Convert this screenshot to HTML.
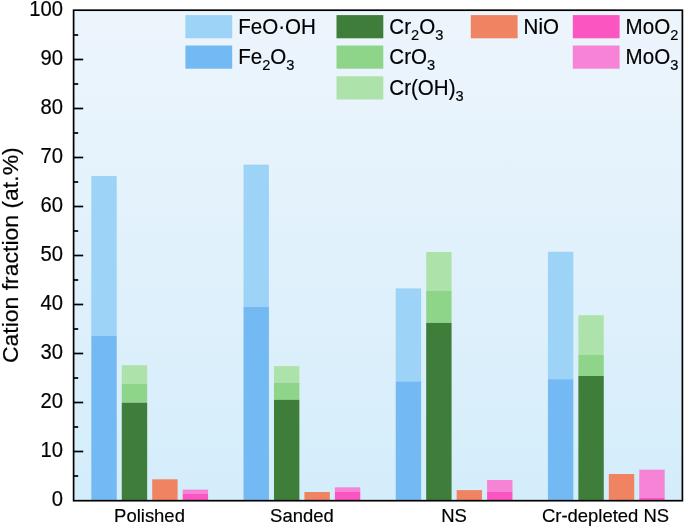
<!DOCTYPE html>
<html><head><meta charset="utf-8"><title>Cation fraction</title>
<style>html,body{margin:0;padding:0;background:#fff}svg{display:block}</style></head>
<body>
<svg width="685" height="527" viewBox="0 0 685 527" font-family="'Liberation Sans', sans-serif" fill="#000">
<defs><linearGradient id="bg" x1="0" y1="0" x2="0" y2="1"><stop offset="0" stop-color="#EDF5FC"/><stop offset="1" stop-color="#D4EDFB"/></linearGradient></defs>
<rect x="0" y="0" width="685" height="527" fill="#fff"/>
<rect x="73.6" y="10.2" width="608.80" height="490.50" fill="url(#bg)"/>
<rect x="91.32" y="176.00" width="25.4" height="159.75" fill="#9DD3F7"/>
<rect x="91.32" y="335.75" width="25.4" height="164.95" fill="#73B9F4"/>
<rect x="121.77" y="365.20" width="25.4" height="18.60" fill="#ADE3AA"/>
<rect x="121.77" y="383.80" width="25.4" height="18.90" fill="#8ED58A"/>
<rect x="121.77" y="402.70" width="25.4" height="98.00" fill="#3F7D3A"/>
<rect x="152.22" y="479.30" width="25.4" height="21.40" fill="#F08462"/>
<rect x="182.68" y="489.60" width="25.4" height="4.30" fill="#F683D6"/>
<rect x="182.68" y="493.90" width="25.4" height="6.80" fill="#FB55C2"/>
<rect x="243.52" y="164.60" width="25.4" height="142.10" fill="#9DD3F7"/>
<rect x="243.52" y="306.70" width="25.4" height="194.00" fill="#73B9F4"/>
<rect x="273.97" y="366.10" width="25.4" height="16.80" fill="#ADE3AA"/>
<rect x="273.97" y="382.90" width="25.4" height="16.90" fill="#8ED58A"/>
<rect x="273.97" y="399.80" width="25.4" height="100.90" fill="#3F7D3A"/>
<rect x="304.43" y="492.00" width="25.4" height="8.70" fill="#F08462"/>
<rect x="334.88" y="487.30" width="25.4" height="4.60" fill="#F683D6"/>
<rect x="334.88" y="491.90" width="25.4" height="8.80" fill="#FB55C2"/>
<rect x="395.73" y="288.40" width="25.4" height="93.00" fill="#9DD3F7"/>
<rect x="395.73" y="381.40" width="25.4" height="119.30" fill="#73B9F4"/>
<rect x="426.18" y="252.00" width="25.4" height="38.90" fill="#ADE3AA"/>
<rect x="426.18" y="290.90" width="25.4" height="32.00" fill="#8ED58A"/>
<rect x="426.18" y="322.90" width="25.4" height="177.80" fill="#3F7D3A"/>
<rect x="456.63" y="490.10" width="25.4" height="10.60" fill="#F08462"/>
<rect x="487.08" y="480.00" width="25.4" height="11.90" fill="#F683D6"/>
<rect x="487.08" y="491.90" width="25.4" height="8.80" fill="#FB55C2"/>
<rect x="547.92" y="251.80" width="25.4" height="127.40" fill="#9DD3F7"/>
<rect x="547.92" y="379.20" width="25.4" height="121.50" fill="#73B9F4"/>
<rect x="578.37" y="315.20" width="25.4" height="39.70" fill="#ADE3AA"/>
<rect x="578.37" y="354.90" width="25.4" height="21.10" fill="#8ED58A"/>
<rect x="578.37" y="376.00" width="25.4" height="124.70" fill="#3F7D3A"/>
<rect x="608.82" y="474.00" width="25.4" height="26.70" fill="#F08462"/>
<rect x="639.27" y="469.70" width="25.4" height="28.20" fill="#F683D6"/>
<rect x="639.27" y="497.90" width="25.4" height="2.80" fill="#FB55C2"/>
<rect x="73.6" y="10.2" width="608.80" height="490.50" fill="none" stroke="#000" stroke-width="1.7"/>
<line x1="73.6" y1="476.00" x2="78.20" y2="476.00" stroke="#000" stroke-width="1.7"/>
<line x1="73.6" y1="451.50" x2="83.20" y2="451.50" stroke="#000" stroke-width="1.7"/>
<line x1="73.6" y1="427.00" x2="78.20" y2="427.00" stroke="#000" stroke-width="1.7"/>
<line x1="73.6" y1="402.50" x2="83.20" y2="402.50" stroke="#000" stroke-width="1.7"/>
<line x1="73.6" y1="378.00" x2="78.20" y2="378.00" stroke="#000" stroke-width="1.7"/>
<line x1="73.6" y1="353.50" x2="83.20" y2="353.50" stroke="#000" stroke-width="1.7"/>
<line x1="73.6" y1="329.00" x2="78.20" y2="329.00" stroke="#000" stroke-width="1.7"/>
<line x1="73.6" y1="304.50" x2="83.20" y2="304.50" stroke="#000" stroke-width="1.7"/>
<line x1="73.6" y1="280.00" x2="78.20" y2="280.00" stroke="#000" stroke-width="1.7"/>
<line x1="73.6" y1="255.50" x2="83.20" y2="255.50" stroke="#000" stroke-width="1.7"/>
<line x1="73.6" y1="231.00" x2="78.20" y2="231.00" stroke="#000" stroke-width="1.7"/>
<line x1="73.6" y1="206.50" x2="83.20" y2="206.50" stroke="#000" stroke-width="1.7"/>
<line x1="73.6" y1="182.00" x2="78.20" y2="182.00" stroke="#000" stroke-width="1.7"/>
<line x1="73.6" y1="157.50" x2="83.20" y2="157.50" stroke="#000" stroke-width="1.7"/>
<line x1="73.6" y1="133.00" x2="78.20" y2="133.00" stroke="#000" stroke-width="1.7"/>
<line x1="73.6" y1="108.50" x2="83.20" y2="108.50" stroke="#000" stroke-width="1.7"/>
<line x1="73.6" y1="84.00" x2="78.20" y2="84.00" stroke="#000" stroke-width="1.7"/>
<line x1="73.6" y1="59.50" x2="83.20" y2="59.50" stroke="#000" stroke-width="1.7"/>
<line x1="73.6" y1="35.00" x2="78.20" y2="35.00" stroke="#000" stroke-width="1.7"/>
<text transform="translate(62.90,506.30) scale(0.955,1)" font-size="21.2" text-anchor="end" stroke="#000" stroke-width="0.18">0</text>
<text transform="translate(62.90,457.30) scale(0.955,1)" font-size="21.2" text-anchor="end" stroke="#000" stroke-width="0.18">10</text>
<text transform="translate(62.90,408.30) scale(0.955,1)" font-size="21.2" text-anchor="end" stroke="#000" stroke-width="0.18">20</text>
<text transform="translate(62.90,359.30) scale(0.955,1)" font-size="21.2" text-anchor="end" stroke="#000" stroke-width="0.18">30</text>
<text transform="translate(62.90,310.30) scale(0.955,1)" font-size="21.2" text-anchor="end" stroke="#000" stroke-width="0.18">40</text>
<text transform="translate(62.90,261.30) scale(0.955,1)" font-size="21.2" text-anchor="end" stroke="#000" stroke-width="0.18">50</text>
<text transform="translate(62.90,212.30) scale(0.955,1)" font-size="21.2" text-anchor="end" stroke="#000" stroke-width="0.18">60</text>
<text transform="translate(62.90,163.30) scale(0.955,1)" font-size="21.2" text-anchor="end" stroke="#000" stroke-width="0.18">70</text>
<text transform="translate(62.90,114.30) scale(0.955,1)" font-size="21.2" text-anchor="end" stroke="#000" stroke-width="0.18">80</text>
<text transform="translate(62.90,65.30) scale(0.955,1)" font-size="21.2" text-anchor="end" stroke="#000" stroke-width="0.18">90</text>
<text transform="translate(62.90,16.30) scale(0.955,1)" font-size="21.2" text-anchor="end" stroke="#000" stroke-width="0.18">100</text>
<text transform="translate(149.50,521.60) scale(0.967,1)" font-size="19.1" text-anchor="middle" stroke="#000" stroke-width="0.18">Polished</text>
<text transform="translate(301.90,521.60) scale(0.967,1)" font-size="19.1" text-anchor="middle" stroke="#000" stroke-width="0.18">Sanded</text>
<text transform="translate(454.10,521.60) scale(0.967,1)" font-size="19.1" text-anchor="middle" stroke="#000" stroke-width="0.18">NS</text>
<text transform="translate(605.50,521.60) scale(0.967,1)" font-size="19.1" text-anchor="middle" stroke="#000" stroke-width="0.18">Cr-depleted NS</text>
<text transform="translate(18.0,255.2) rotate(-90) scale(1.022,1)" font-size="22.5" text-anchor="middle" stroke="#000" stroke-width="0.18">Cation fraction (at.%)</text>
<rect x="185.4" y="15.1" width="46.8" height="23.2" fill="#9DD3F7"/>
<text transform="translate(238.20,33.80) scale(0.97,1)" font-size="21.2" text-anchor="start" stroke="#000" stroke-width="0.18">FeO·OH</text>
<rect x="185.4" y="45.5" width="46.8" height="23.2" fill="#73B9F4"/>
<text transform="translate(238.20,64.20) scale(0.97,1)" font-size="21.2" text-anchor="start" stroke="#000" stroke-width="0.18">Fe<tspan dy="6.0" font-size="15.1">2</tspan><tspan dy="-6.0">O</tspan><tspan dy="6.0" font-size="15.1">3</tspan></text>
<rect x="336.5" y="15.1" width="46.8" height="23.2" fill="#3F7D3A"/>
<text transform="translate(389.30,33.80) scale(0.97,1)" font-size="21.2" text-anchor="start" stroke="#000" stroke-width="0.18">Cr<tspan dy="6.0" font-size="15.1">2</tspan><tspan dy="-6.0">O</tspan><tspan dy="6.0" font-size="15.1">3</tspan></text>
<rect x="336.5" y="45.5" width="46.8" height="23.2" fill="#8ED58A"/>
<text transform="translate(389.30,64.20) scale(0.97,1)" font-size="21.2" text-anchor="start" stroke="#000" stroke-width="0.18">CrO<tspan dy="6.0" font-size="15.1">3</tspan></text>
<rect x="336.5" y="76.3" width="46.8" height="23.2" fill="#ADE3AA"/>
<text transform="translate(389.30,95.00) scale(0.97,1)" font-size="21.2" text-anchor="start" stroke="#000" stroke-width="0.18">Cr(OH)<tspan dy="6.0" font-size="15.1">3</tspan></text>
<rect x="470.8" y="15.1" width="46.8" height="23.2" fill="#F08462"/>
<text transform="translate(523.60,33.80) scale(0.97,1)" font-size="21.2" text-anchor="start" stroke="#000" stroke-width="0.18">NiO</text>
<rect x="572.8" y="15.1" width="46.8" height="23.2" fill="#FB55C2"/>
<text transform="translate(625.60,33.80) scale(0.97,1)" font-size="21.2" text-anchor="start" stroke="#000" stroke-width="0.18">MoO<tspan dy="6.0" font-size="15.1">2</tspan></text>
<rect x="572.8" y="45.5" width="46.8" height="23.2" fill="#F683D6"/>
<text transform="translate(625.60,64.20) scale(0.97,1)" font-size="21.2" text-anchor="start" stroke="#000" stroke-width="0.18">MoO<tspan dy="6.0" font-size="15.1">3</tspan></text>
</svg>
</body></html>
